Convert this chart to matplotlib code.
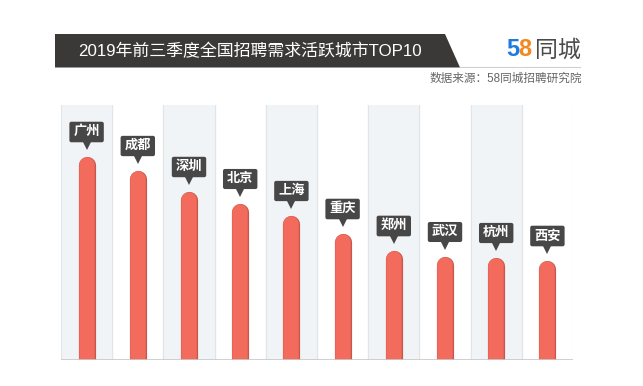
import matplotlib.pyplot as plt
import matplotlib.patheffects as pe
from matplotlib.patches import Polygon

plt.rcParams['font.family'] = ['Liberation Sans', 'Noto Sans CJK SC', 'DejaVu Sans']

# 数据
cities = ['广州', '成都', '深圳', '北京', '上海', '重庆', '郑州', '武汉', '杭州', '西安']
values = [203, 189, 168, 156, 144, 126, 109, 103, 102, 99]

title = '2019年前三季度全国招聘需求活跃城市TOP10'
source = '数据来源：58同城招聘研究院'

W, H = 643, 386
fig = plt.figure(figsize=(W / 100, H / 100), dpi=100)
fig.patch.set_facecolor('white')

# 标题横幅
fig.patches.append(Polygon([(55 / W, 1 - 34 / H), (445 / W, 1 - 34 / H),
                            (460 / W, 1 - 67.5 / H), (55 / W, 1 - 67.5 / H)],
                           closed=True, transform=fig.transFigure,
                           facecolor='#3b3838', edgecolor='none'))
fig.add_artist(plt.Line2D([460 / W, 580 / W], [1 - 67 / H, 1 - 67 / H],
                          transform=fig.transFigure, color='#d0d0d0', lw=0.8))
fig.text(78 / W, 1 - 51 / H, title, color='white', fontsize=12.2,
         ha='left', va='center')

# logo
fig.text(506 / W, 1 - 50 / H, '5', color='#1f7ae0', fontsize=17,
         fontweight='bold', ha='left', va='center', family='Liberation Sans')
fig.text(518 / W, 1 - 50 / H, '8', color='#f28a1e', fontsize=17,
         fontweight='bold', ha='left', va='center', family='Liberation Sans')
fig.text(581 / W, 1 - 50 / H, '同城', color='#4a4a4a', fontsize=16.5,
         ha='right', va='center')
fig.text(582 / W, 1 - 79 / H, source, color='#666666', fontsize=8.4,
         ha='right', va='center')

# 图表区域
left, right, top, bottom = 61, 573, 105, 360
ax = fig.add_axes([left / W, 1 - bottom / H, (right - left) / W, (bottom - top) / H])
n = len(cities)
ax.set_xlim(0, n)
ax.set_ylim(0, bottom - top)
ax.axis('off')

for i in range(n):
    if i % 2 == 0:
        ax.axvspan(i, i + 1, color='#f1f4f6', zorder=0)
    ax.axvline(i, color='#e2e5e8', lw=0.8, zorder=0.5)
ax.axvline(n, color='#e2e5e8', lw=0.8, zorder=0.5)
ax.axhline(0, color='#c8c8c8', lw=1.2, zorder=3)

bar_px = 15.5
lw = bar_px * 72 / 100
r = bar_px / 2
for i, (c, v) in enumerate(zip(cities, values)):
    x = i + 0.5
    ax.plot([x, x], [-20, v - r], color='#f26b5d', lw=lw, solid_capstyle='round',
            zorder=2,
            path_effects=[pe.Stroke(linewidth=lw + 1.2, foreground='#c9564b'), pe.Normal()])
    ax.plot(x, v + 12.5, marker='v', markersize=6.5, color='#474747',
            markeredgewidth=0, zorder=4)
    ax.text(x, v + 25, c, color='white', fontsize=9.5, fontweight='bold',
            ha='center', va='center', zorder=5,
            bbox=dict(boxstyle='round,pad=0.3,rounding_size=0.15',
                      fc='#474747', ec='none'))

fig.savefig('out.png', dpi=100)
